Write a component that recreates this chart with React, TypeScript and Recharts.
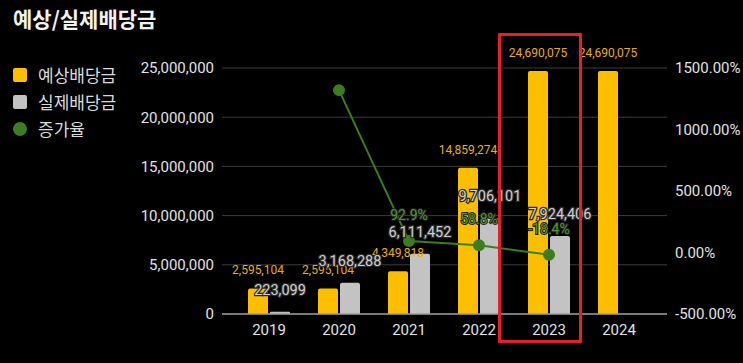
import {
  ComposedChart,
  Bar,
  Line,
  XAxis,
  YAxis,
  CartesianGrid,
  LabelList,
} from "recharts"

const years = ["2019", "2020", "2021", "2022", "2023", "2024"]
const expected = [2595104, 2595104, 4349818, 14859274, 24690075, 24690075]
const actual: (number | null)[] = [223099, 3168288, 6111452, 9706101, 7924406, null]
const growth: (number | null)[] = [null, 1320.1, 92.9, 58.8, -18.4, null]
const growthLabels = ["", "", "92.9%", "58.8%", "-18.4%", ""]
const leftTicks = [0, 5000000, 10000000, 15000000, 20000000, 25000000]
const rightTicks = [-500, 0, 500, 1000, 1500]

const YELLOW = "#fcbf00"
const GRAY = "#c3c3c3"
const GREEN = "#3c7d1f"

const data = years.map((year, i) => ({
  year,
  expected: expected[i],
  actual: actual[i],
  growth: growth[i],
  growthLabel: growthLabels[i],
}))

const fmt = (v: number) => v.toLocaleString("en-US")

const tickStyle = { fill: "#e2e2e2", fontSize: 15, fontFamily: "Roboto" }

const legendItems = [
  { name: "예상배당금", color: YELLOW, shape: "square" },
  { name: "실제배당금", color: GRAY, shape: "square" },
  { name: "증가율", color: GREEN, shape: "circle" },
]

const LegendBox = () => (
  <div style={{ position: "absolute", left: 13, top: 61 }}>
    {legendItems.map((item) => (
      <div
        key={item.name}
        style={{ display: "flex", alignItems: "center", height: 27 }}
      >
        <span
          style={{
            width: 14,
            height: 14,
            background: item.color,
            borderRadius: item.shape === "circle" ? 7 : 2,
            display: "inline-block",
          }}
        />
        <span
          style={{
            marginLeft: 11,
            color: "#dcdcdc",
            fontSize: 17,
            fontFamily: "'Noto Sans CJK KR'",
          }}
        >
          {item.name}
        </span>
      </div>
    ))}
  </div>
)

const makeBarLabel =
  (color: string, size: number, offset: number, outline: boolean) =>
  (props: any) => {
    const { x, y, width, value } = props
    if (value == null) return null
    return (
      <text
        x={x + width / 2}
        y={y - offset}
        textAnchor="middle"
        fill={color}
        fontSize={size}
        fontFamily="Roboto"
        stroke={outline ? "#2a2a2a" : "none"}
        strokeWidth={outline ? 2.5 : 0}
        paintOrder="stroke"
      >
        {fmt(value)}
      </text>
    )
  }

const growthLabel = (props: any) => {
  const { x, y, value } = props
  if (!value) return null
  return (
    <text
      x={x}
      y={y - 21}
      textAnchor="middle"
      fill="#4a9a26"
      fontSize={14}
      fontFamily="Roboto"
      stroke="#222"
      strokeWidth={2}
      paintOrder="stroke"
    >
      {value}
    </text>
  )
}

export default function App() {
  return (
    <div
      style={{
        position: "relative",
        width: 743,
        height: 363,
        background: "#000",
        overflow: "hidden",
      }}
    >
      <style>{"body{margin:0;background:#000}"}</style>
      <div
        style={{
          position: "absolute",
          left: 13,
          top: 3,
          color: "#f2f2f2",
          fontSize: 21,
          fontWeight: 700,
          fontFamily: "'Noto Sans CJK KR'",
        }}
      >
        예상/실제배당금
      </div>
      <LegendBox />
      <ComposedChart
        width={743}
        height={363}
        data={data}
        margin={{ top: 68, right: 0, left: 0, bottom: 19 }}
        barGap={2}
        barCategoryGap={14}
      >
        <CartesianGrid
          yAxisId="left"
          vertical={false}
          stroke="#3c3c3c"
          strokeWidth={1}
        />
        <XAxis
          dataKey="year"
          height={30}
          padding={{ left: 12, right: 13 }}
          axisLine={{ stroke: "#9a9a9a", strokeWidth: 1.5 }}
          tickLine={false}
          tick={tickStyle}
          tickMargin={4}
        />
        <YAxis
          yAxisId="left"
          width={222}
          domain={[0, 25000000]}
          ticks={leftTicks}
          tickFormatter={fmt}
          axisLine={false}
          tickLine={false}
          tick={tickStyle}
        />
        <YAxis
          yAxisId="right"
          orientation="right"
          width={76}
          domain={[-500, 1500]}
          ticks={rightTicks}
          tickFormatter={(v: number) => `${v.toFixed(2)}%`}
          axisLine={false}
          tickLine={false}
          tick={{ ...tickStyle, textAnchor: "start" }}
        />
        <Bar
          yAxisId="left"
          dataKey="expected"
          name="예상배당금"
          fill={YELLOW}
          barSize={20}
          radius={[2, 2, 0, 0]}
          isAnimationActive={false}
        >
          <LabelList dataKey="expected" content={makeBarLabel("#e8b100", 12, 14, false)} />
        </Bar>
        <Bar
          yAxisId="left"
          dataKey="actual"
          name="실제배당금"
          fill={GRAY}
          barSize={20}
          radius={[2, 2, 0, 0]}
          isAnimationActive={false}
        >
          <LabelList dataKey="actual" content={makeBarLabel("#cfcfcf", 14.5, 17, true)} />
        </Bar>
        <Line
          yAxisId="right"
          dataKey="growth"
          name="증가율"
          stroke={GREEN}
          strokeWidth={2}
          dot={{ r: 5, fill: GREEN, stroke: GREEN }}
          activeDot={false}
          connectNulls={false}
          isAnimationActive={false}
        >
          <LabelList dataKey="growthLabel" content={growthLabel} />
        </Line>
      </ComposedChart>
      <div
        style={{
          position: "absolute",
          left: 498,
          top: 33,
          width: 84,
          height: 310,
          boxSizing: "border-box",
          border: "3px solid #e5202a",
          pointerEvents: "none",
        }}
      />
    </div>
  )
}
